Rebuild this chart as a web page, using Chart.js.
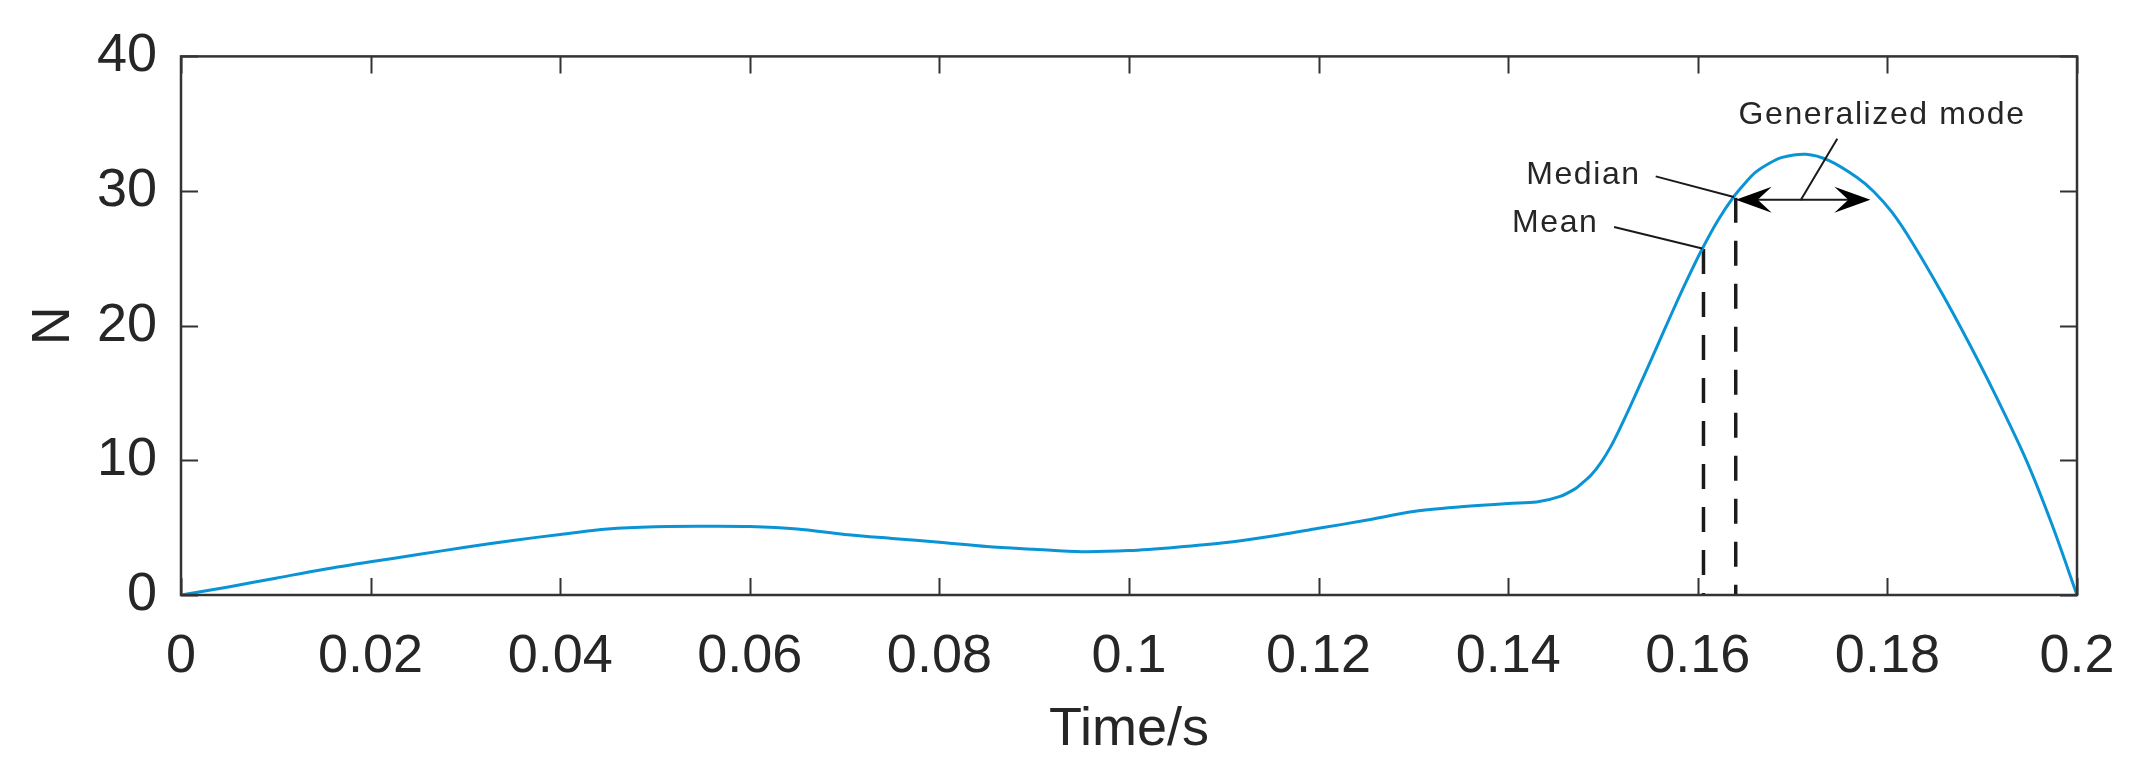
<!DOCTYPE html>
<html>
<head>
<meta charset="utf-8">
<script src="https://cdn.jsdelivr.net/npm/chart.js@4.4.1/dist/chart.umd.min.js"></script>
<style>
  html, body { margin: 0; padding: 0; background: #fff; }
  #wrap { width: 2148px; height: 780px; }
</style>
</head>
<body>
<div id="wrap"><canvas id="forceChart" width="2148" height="780"></canvas></div>
<script>
// force curve
const timeValues = [0, 0.005, 0.01, 0.015, 0.02, 0.025, 0.03, 0.035, 0.04, 0.045,
  0.05, 0.055, 0.06, 0.065, 0.07, 0.075, 0.08, 0.085, 0.09, 0.095,
  0.1, 0.105, 0.11, 0.115, 0.12, 0.125, 0.13, 0.135, 0.14, 0.143,
  0.1454, 0.1471, 0.1478, 0.1488, 0.1498, 0.1508, 0.1517, 0.1528, 0.1538, 0.1556,
  0.1573, 0.159, 0.1605, 0.1621, 0.1637, 0.165, 0.1661, 0.1675, 0.1689, 0.1714,
  0.1738, 0.1768, 0.1786, 0.1805, 0.1826, 0.1858, 0.1886, 0.1911, 0.1946, 0.1974,
  0.2];
const forceValues = [0, 0.6, 1.25, 1.9, 2.47, 3.0, 3.55, 4.05, 4.5, 4.9,
  5.07, 5.1, 5.08, 4.9, 4.5, 4.2, 3.92, 3.6, 3.4, 3.22,
  3.3, 3.55, 3.88, 4.37, 4.95, 5.55, 6.2, 6.55, 6.8, 6.9,
  7.3, 7.9, 8.3, 8.95, 9.85, 11.0, 12.25, 13.9, 15.45, 18.3,
  21.0, 23.6, 25.75, 27.8, 29.5, 30.6, 31.4, 32.05, 32.5, 32.73,
  32.27, 31.0, 29.93, 28.41, 26.2, 22.36, 18.72, 15.27, 10.09, 5.16,
  0];

// markers
const meanPoint = [0.1606, 25.7];
const medianPoint = [0.164, 29.5];
const modeRange = [0.164, 0.1782];
const modeLevel = 29.35;

// callout texts: [text, x, baseline y]
const callouts = [
  ['Median', 0.1419, 30.5],
  ['Mean', 0.1404, 26.96],
  ['Generalized mode', 0.1643, 35.0]
];
// leader lines: [x1, y1, x2, y2]
const leaders = [
  [0.15556, 31.09, 0.1638, 29.56],
  [0.15117, 27.33, 0.16047, 25.73],
  [0.17085, 29.31, 0.17471, 33.89]
];

const ink = '#262626';

const framePlugin = {
  id: 'frame',
  beforeDatasetsDraw(chart) {
    const { ctx, chartArea: a, scales: { x, y } } = chart;
    ctx.save();
    ctx.strokeStyle = '#333';
    ctx.lineWidth = 2;
    ctx.beginPath();
    x.ticks.forEach(t => {
      const px = Math.round(x.getPixelForValue(t.value)) + 0.5;
      ctx.moveTo(px, a.bottom); ctx.lineTo(px, a.bottom - 17);
      ctx.moveTo(px, a.top); ctx.lineTo(px, a.top + 17);
    });
    y.ticks.forEach(t => {
      const py = Math.round(y.getPixelForValue(t.value)) + 0.5;
      ctx.moveTo(a.left, py); ctx.lineTo(a.left + 17, py);
      ctx.moveTo(a.right, py); ctx.lineTo(a.right - 17, py);
    });
    ctx.stroke();
    ctx.restore();
  },
  afterDatasetsDraw(chart) {
    const { ctx, chartArea: a, scales: { x, y } } = chart;
    ctx.save();
    ctx.strokeStyle = '#333';
    ctx.lineWidth = 2.5;
    ctx.strokeRect(a.left, a.top, a.right - a.left, a.bottom - a.top);

    // leader lines
    ctx.strokeStyle = '#1a1a1a';
    ctx.lineWidth = 2;
    leaders.forEach(l => {
      ctx.beginPath();
      ctx.moveTo(x.getPixelForValue(l[0]), y.getPixelForValue(l[1]));
      ctx.lineTo(x.getPixelForValue(l[2]), y.getPixelForValue(l[3]));
      ctx.stroke();
    });

    // double arrow for the generalized mode
    const x1 = x.getPixelForValue(modeRange[0]);
    const x2 = x.getPixelForValue(modeRange[1]);
    const ya = y.getPixelForValue(modeLevel);
    ctx.beginPath();
    ctx.moveTo(x1 + 20, ya); ctx.lineTo(x2 - 20, ya);
    ctx.stroke();
    ctx.fillStyle = '#000';
    [[x1, 1], [x2, -1]].forEach(([tip, dir]) => {
      ctx.beginPath();
      ctx.moveTo(tip, ya);
      ctx.lineTo(tip + dir * 36, ya - 13);
      ctx.lineTo(tip + dir * 22, ya);
      ctx.lineTo(tip + dir * 36, ya + 13);
      ctx.closePath();
      ctx.fill();
    });

    // callout texts
    ctx.fillStyle = ink;
    ctx.font = '32px "Liberation Sans", Arial, sans-serif';
    ctx.letterSpacing = '1.6px';
    ctx.textAlign = 'left';
    ctx.textBaseline = 'alphabetic';
    callouts.forEach(c => {
      ctx.fillText(c[0], x.getPixelForValue(c[1]), y.getPixelForValue(c[2]));
    });
    ctx.restore();
  }
};

const curve = timeValues.map((t, i) => ({ x: t, y: forceValues[i] }));
const dashStyle = { borderColor: '#1a1a1a', borderWidth: 3.5, borderDash: [25, 18], pointRadius: 0, fill: false, tension: 0 };

new Chart(document.getElementById('forceChart'), {
  type: 'line',
  data: {
    datasets: [
      {
        data: curve,
        borderColor: '#0a94d6',
        borderWidth: 3,
        pointRadius: 0,
        tension: 0.3
      },
      Object.assign({ data: [{ x: meanPoint[0], y: meanPoint[1] }, { x: meanPoint[0], y: 0 }] }, dashStyle),
      Object.assign({ data: [{ x: medianPoint[0], y: medianPoint[1] }, { x: medianPoint[0], y: 0 }] }, dashStyle)
    ]
  },
  options: {
    responsive: false,
    devicePixelRatio: 1,
    animation: false,
    layout: { padding: { left: 0, right: 71, top: 56, bottom: 0 } },
    plugins: { legend: { display: false }, tooltip: { enabled: false } },
    scales: {
      x: {
        type: 'linear',
        min: 0,
        max: 0.2,
        afterFit(scale) { scale.height = 185; },
        grid: { display: false, drawTicks: false },
        border: { display: false },
        ticks: {
          stepSize: 0.02,
          padding: 30,
          color: ink,
          maxRotation: 0,
          autoSkip: false,
          font: { family: '"Liberation Sans", Arial, sans-serif', size: 54 },
          callback: v => String(parseFloat(v.toFixed(3)))
        },
        title: {
          display: true,
          text: 'Time/s',
          color: ink,
          padding: { top: 0, bottom: 17 },
          font: { family: '"Liberation Sans", Arial, sans-serif', size: 54 }
        }
      },
      y: {
        min: 0,
        max: 40,
        afterFit(scale) { scale.width = 181; },
        grid: { display: false, drawTicks: false },
        border: { display: false },
        ticks: {
          stepSize: 10,
          padding: 24,
          color: ink,
          font: { family: '"Liberation Sans", Arial, sans-serif', size: 54 }
        },
        title: {
          display: true,
          text: 'N',
          color: ink,
          padding: { top: 22, bottom: 0 },
          font: { family: '"Liberation Sans", Arial, sans-serif', size: 54 }
        }
      }
    }
  },
  plugins: [framePlugin]
});
</script>
</body>
</html>
